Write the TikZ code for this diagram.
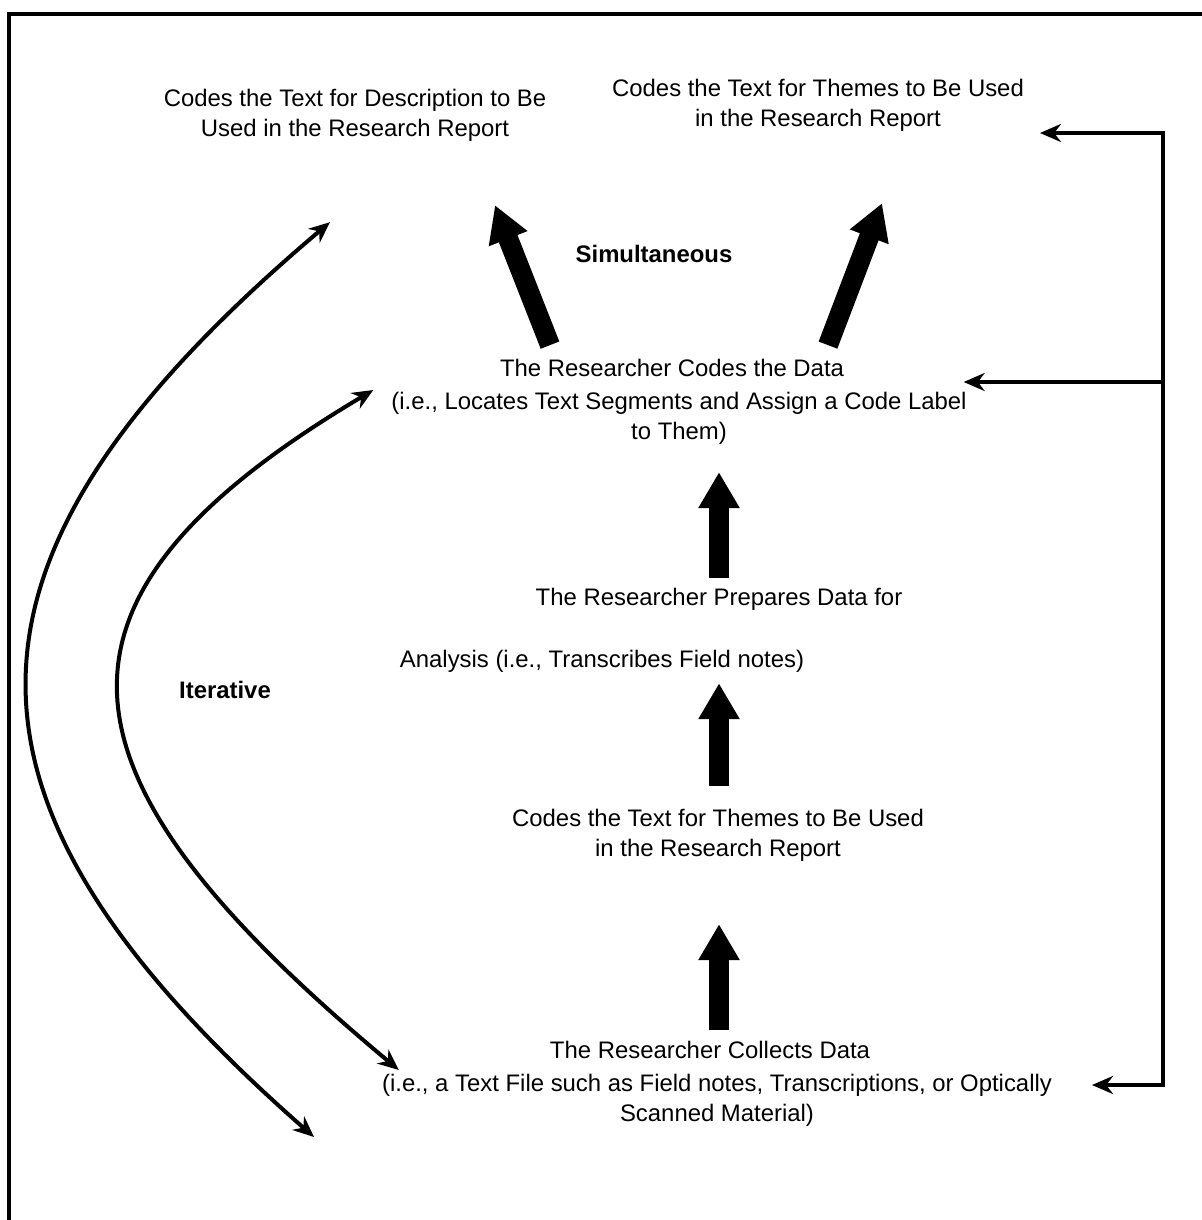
\documentclass[tikz,border=0pt]{standalone}
\usepackage{fontspec}
\setmainfont{Liberation Sans}
\usetikzlibrary{arrows.meta, positioning, calc}
\tikzset{
    txt/.style={align=center, inner sep=1pt, font=\fontsize{13.6}{17}\selectfont},
    boldtxt/.style={txt, font=\fontsize{13.6}{17}\selectfont\bfseries},
    bigarrow/.style={line width=0.4cm, -{Triangle[length=0.72cm, width=0.78cm]}},
    thinarrow/.style={line width=0.08cm, -{Stealth[length=0.42cm, width=0.36cm]}},
    twoway/.style={line width=0.08cm, {Stealth[length=0.42cm, width=0.36cm]}-{Stealth[length=0.42cm, width=0.36cm]}}
}

\begin{document}
\begin{tikzpicture}[x=0.02cm, y=-0.02cm]
    \useasboundingbox (0,0) rectangle (1201,1220);
    % frame, only top and left are in the picture
    \draw[line width=0.08cm] (9,1230) -- (9,14) -- (1210,14);

    \node[txt] (descr) at (355,115) {Codes the Text for Description to Be\\Used in the Research Report};
    \node[txt] (themes) at (818,105) {Codes the Text for Themes to Be Used\\in the Research Report};
    \node[boldtxt] (simul) at (654,254) {Simultaneous};
    \node[txt] (codes) at (672,368) {The Researcher Codes the Data};
    \node[txt] (locates) at (679,418) {(i.e., Locates Text Segments and Assign a Code Label\\to Them)};
    \node[txt] (prepares) at (719,599) {The Researcher Prepares Data for};
    \node[txt] (analysis) at (602,661) {Analysis (i.e., Transcribes Field notes)};
    \node[boldtxt] (iter) at (225,690) {Iterative};
    \node[txt] (themesb) at (718,835) {Codes the Text for Themes to Be Used\\in the Research Report};
    \node[txt] (collects) at (710,1050) {The Researcher Collects Data};
    \node[txt] (textfile) at (717,1100) {(i.e., a Text File such as Field notes, Transcriptions, or Optically\\Scanned Material)};

    % thick arrows
    \draw[bigarrow] ([shift={(-122,-12)}]codes.north) -- ([shift={(140,62)}]descr.south);
    \draw[bigarrow] ([shift={(156,-12)}]codes.north) -- ([shift={(64,70)}]themes.south);
    \draw[bigarrow] ([shift={(0,-8)}]prepares.north) -- ([shift={(40,26)}]locates.south);
    \draw[bigarrow] ([shift={(1,-21)}]themesb.north) -- ([shift={(117,9)}]analysis.south);
    \draw[bigarrow] ([shift={(9,-9)}]collects.north) -- ([shift={(1,61)}]themesb.south);

    % feedback on the right
    \coordinate (rail) at (1163,0);
    \coordinate (t1) at ([shift={(14,28)}]themes.east);
    \coordinate (t2) at ([shift={(-5,-36)}]locates.east);
    \coordinate (t3) at ([shift={(38,-15)}]textfile.east);
    \draw[twoway] (t1) -- (t1 -| rail) -- (t3 -| rail) -- (t3);
    \draw[thinarrow] (t2 -| rail) -- (t2);

    % iterative loops
    \coordinate (o1) at ([shift={(-25,79)}]descr.south);
    \coordinate (o2) at ([shift={(-66,37)}]textfile.west);
    \coordinate (i1) at ([shift={(-16,-28)}]locates.west);
    \coordinate (i2) at ([shift={(-149,20)}]collects.west);
    \draw[twoway] (o1) .. controls (-70,560) and (-70,800) .. (o2);
    \draw[twoway] (i1) .. controls (20,600) and (42,773) .. (i2);
\end{tikzpicture}
\end{document}
